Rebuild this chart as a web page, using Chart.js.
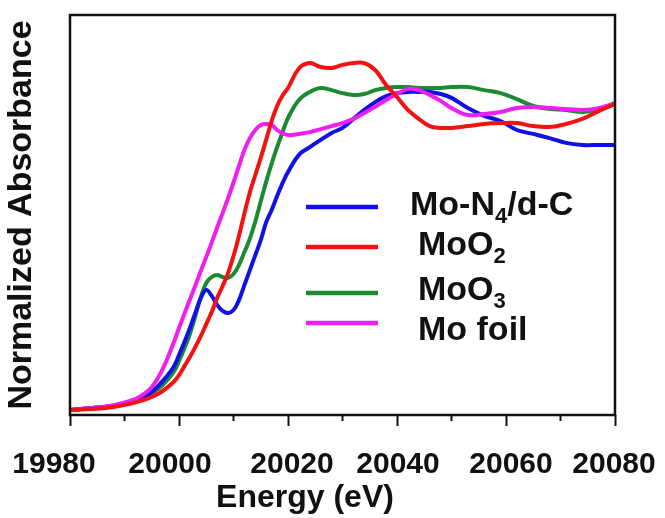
<!DOCTYPE html>
<html>
<head>
<meta charset="utf-8">
<title>Mo K-edge XANES</title>
<script src="https://cdn.jsdelivr.net/npm/chart.js@4/dist/chart.umd.min.js"></script>
<style>
  html, body { margin: 0; padding: 0; background: #ffffff; }
  canvas { display: block; }
</style>
</head>
<body>
<canvas id="xanes" width="665" height="518"></canvas>
<script>
// Photon energy grid (eV)
const energy = [
  19980, 19984, 19988, 19991, 19993, 19995, 19997, 19999,
  20000, 20001, 20002, 20003, 20004, 20005, 20006, 20007, 20008, 20009, 20010,
  20011, 20012, 20013, 20014, 20015, 20016, 20017, 20018, 20019, 20020,
  20022, 20024, 20026, 20028, 20030, 20032, 20034, 20036, 20038, 20040, 20042, 20044, 20046, 20048, 20050,
  20053, 20056, 20059, 20062, 20065, 20068, 20071, 20074, 20077, 20080
];

// Normalized absorbance for each sample, on the grid above
const moN4dC = [
  0.017, 0.023, 0.030, 0.040, 0.053, 0.077, 0.113, 0.160,
  0.200, 0.243, 0.290, 0.340, 0.390, 0.417, 0.397, 0.367, 0.347, 0.340, 0.350,
  0.383, 0.433, 0.483, 0.533, 0.583, 0.643, 0.683, 0.730, 0.773, 0.810,
  0.867, 0.893, 0.917, 0.940, 0.957, 0.987, 1.017, 1.043, 1.063, 1.073, 1.077, 1.077, 1.077, 1.070, 1.057,
  1.023, 0.997, 0.980, 0.950, 0.937, 0.923, 0.907, 0.900, 0.900, 0.900
];
const moO2 = [
  0.017, 0.020, 0.027, 0.037, 0.047, 0.060, 0.080, 0.110,
  0.133, 0.163, 0.193, 0.227, 0.263, 0.303, 0.343, 0.390, 0.430, 0.473, 0.530,
  0.597, 0.672, 0.742, 0.800, 0.857, 0.918, 0.980, 1.030, 1.065, 1.090,
  1.155, 1.173, 1.160, 1.157, 1.167, 1.173, 1.173, 1.150, 1.100, 1.060, 1.017, 0.987, 0.963, 0.957, 0.957,
  0.963, 0.970, 0.973, 0.973, 0.963, 0.960, 0.970, 0.987, 1.013, 1.037
];
const moO3 = [
  0.017, 0.023, 0.030, 0.040, 0.053, 0.073, 0.100, 0.143,
  0.180, 0.223, 0.270, 0.330, 0.393, 0.440, 0.460, 0.467, 0.460, 0.457, 0.470,
  0.500, 0.543, 0.588, 0.645, 0.712, 0.778, 0.838, 0.893, 0.943, 0.990,
  1.050, 1.077, 1.090, 1.083, 1.073, 1.067, 1.070, 1.083, 1.090, 1.093, 1.093, 1.090, 1.090, 1.090, 1.093,
  1.093, 1.083, 1.073, 1.053, 1.030, 1.020, 1.017, 1.010, 1.017, 1.037
];
const moFoil = [
  0.017, 0.023, 0.033, 0.047, 0.063, 0.093, 0.153, 0.240,
  0.290, 0.338, 0.385, 0.432, 0.480, 0.527, 0.575, 0.625, 0.673, 0.723, 0.775,
  0.830, 0.883, 0.923, 0.950, 0.967, 0.970, 0.967, 0.950, 0.940, 0.933,
  0.937, 0.943, 0.953, 0.963, 0.973, 0.987, 1.007, 1.027, 1.050, 1.070, 1.087, 1.083, 1.067, 1.047, 1.023,
  1.000, 1.003, 1.010, 1.023, 1.027, 1.023, 1.020, 1.017, 1.023, 1.040
];

const seriesLabels = ['Mo-N₄/d-C', 'MoO₂', 'MoO₃', 'Mo foil'];
const energyTicks = [19980, 20000, 20020, 20040, 20060, 20080];
const minorTicks = [19990, 20010, 20030, 20050, 20070];

const FONT = '"Liberation Sans", Arial, Helvetica, sans-serif';
const INK = '#111111';

const toPoints = (ys) => energy.map((e, i) => ({ x: e, y: ys[i] }));

// Black box round the plot area plus the short minor ticks on the energy axis
const framePlugin = {
  id: 'frameBox',
  afterDatasetsDraw(chart) {
    const { ctx, chartArea: a, scales: { x } } = chart;
    ctx.save();
    ctx.strokeStyle = INK;
    ctx.lineWidth = 2.5;
    ctx.strokeRect(a.left, a.top, a.right - a.left, a.bottom - a.top);
    ctx.lineWidth = 2;
    minorTicks.forEach((v) => {
      const px = x.getPixelForValue(v);
      ctx.beginPath();
      ctx.moveTo(px, a.bottom);
      ctx.lineTo(px, a.bottom + 6);
      ctx.stroke();
    });
    ctx.restore();
  }
};

// Energy tick labels (slightly nudged sideways, as typeset) and the axis title
const energyAxisText = {
  id: 'energyAxisText',
  afterDraw(chart, args, opts) {
    const { ctx, chartArea: a, scales: { x } } = chart;
    ctx.save();
    ctx.fillStyle = INK;
    ctx.textAlign = 'center';
    ctx.textBaseline = 'alphabetic';
    ctx.font = 'bold 30px ' + FONT;
    energyTicks.forEach((v, i) => {
      ctx.fillText(String(v), x.getPixelForValue(v) + opts.nudge[i], a.bottom + opts.labelDy);
    });
    ctx.font = 'bold 32px ' + FONT;
    ctx.fillText(opts.title, a.left + opts.titleDx, a.bottom + opts.titleDy);
    ctx.restore();
  }
};

// Legend drawn inside the plot, with chemical subscripts set small and low
const SUBS = { '₀': '0', '₁': '1', '₂': '2', '₃': '3', '₄': '4', '₅': '5', '₆': '6', '₇': '7', '₈': '8', '₉': '9' };
function drawFormula(ctx, text, x, y, size) {
  let cx = x;
  let run = '';
  const flush = () => {
    if (!run) return;
    ctx.font = 'bold ' + size + 'px ' + FONT;
    ctx.fillText(run, cx, y);
    cx += ctx.measureText(run).width;
    run = '';
  };
  for (const ch of text) {
    if (SUBS[ch]) {
      flush();
      const s = SUBS[ch];
      ctx.font = 'bold ' + Math.round(size * 0.66) + 'px ' + FONT;
      ctx.fillText(s, cx, y + size * 0.24);
      cx += ctx.measureText(s).width;
    } else {
      run += ch;
    }
  }
  flush();
}

const insetLegend = {
  id: 'insetLegend',
  afterDraw(chart, args, opts) {
    const { ctx, chartArea: a } = chart;
    ctx.save();
    ctx.textAlign = 'left';
    ctx.textBaseline = 'alphabetic';
    chart.data.datasets.forEach((ds, i) => {
      const row = opts.rows[i];
      ctx.strokeStyle = ds.borderColor;
      ctx.lineWidth = 4.5;
      ctx.lineCap = 'butt';
      ctx.beginPath();
      ctx.moveTo(a.left + opts.lineStart, a.top + row.line);
      ctx.lineTo(a.left + opts.lineEnd, a.top + row.line);
      ctx.stroke();
      ctx.fillStyle = INK;
      drawFormula(ctx, ds.label, a.left + row.textX, a.top + row.baseline, opts.size);
    });
    ctx.restore();
  }
};

const lineStyle = (color, order) => ({
  borderColor: color,
  backgroundColor: color,
  borderWidth: 4,
  pointRadius: 0,
  tension: 0.4,
  fill: false,
  borderCapStyle: 'round',
  borderJoinStyle: 'round',
  order
});

new Chart(document.getElementById('xanes'), {
  type: 'line',
  data: {
    datasets: [
      { label: seriesLabels[0], data: toPoints(moN4dC), ...lineStyle('#1010e8', 2) },
      { label: seriesLabels[1], data: toPoints(moO2), ...lineStyle('#f21212', 0) },
      { label: seriesLabels[2], data: toPoints(moO3), ...lineStyle('#1c8a30', 3) },
      { label: seriesLabels[3], data: toPoints(moFoil), ...lineStyle('#f01ef0', 1) }
    ]
  },
  options: {
    responsive: false,
    animation: false,
    layout: { padding: { top: 15, right: 50, left: 0, bottom: 0 } },
    plugins: {
      legend: { display: false },
      tooltip: { enabled: false },
      energyAxisText: {
        nudge: [-16, -9, 4, 1, 5, -1],
        labelDy: 58,
        title: 'Energy (eV)',
        titleDx: 235,
        titleDy: 92
      },
      insetLegend: {
        size: 34,
        lineStart: 236,
        lineEnd: 308,
        rows: [
          { line: 192, baseline: 200, textX: 340 },
          { line: 232, baseline: 240, textX: 348 },
          { line: 278, baseline: 285, textX: 348 },
          { line: 308, baseline: 325, textX: 348 }
        ]
      }
    },
    scales: {
      x: {
        type: 'linear',
        min: 19980,
        max: 20080,
        afterBuildTicks: (scale) => { scale.ticks = energyTicks.map((v) => ({ value: v })); },
        afterFit: (scale) => { scale.height = 103; },
        border: { display: false },
        grid: {
          display: true,
          drawOnChartArea: false,
          drawTicks: true,
          tickLength: 11,
          tickWidth: 2,
          tickColor: INK
        },
        ticks: { display: false }
      },
      y: {
        min: 0,
        max: 4 / 3,
        afterFit: (scale) => { scale.width = 70; },
        border: { display: false },
        grid: { display: false },
        ticks: { display: false },
        title: {
          display: true,
          text: 'Normalized Absorbance',
          color: INK,
          font: { family: FONT, size: 34, weight: 'bold' },
          padding: { top: 1, bottom: 0 }
        }
      }
    }
  },
  plugins: [framePlugin, energyAxisText, insetLegend]
});
</script>
</body>
</html>
